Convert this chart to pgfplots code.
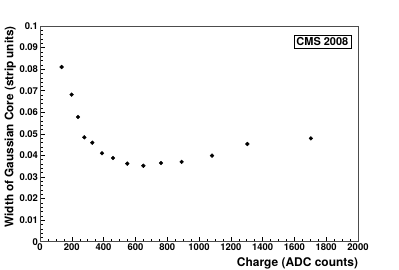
\documentclass[border=0pt]{standalone}
\usepackage{fontspec}
\setmainfont{TeX Gyre Heros}
\usepackage{pgfplots}
\pgfplotsset{compat=1.18}
\begin{document}
\begin{tikzpicture}[x=1bp,y=1bp]
\path[use as bounding box] (0,0) rectangle (399,270);
\begin{axis}[
  at={(40bp,28.3bp)}, anchor=south west,
  scale only axis, width=318bp, height=215.7bp,
  xmin=0, xmax=2000, ymin=0, ymax=0.1,
  xtick={0,200,...,2000}, ytick={0,0.01,...,0.1},
  minor x tick num=3, minor y tick num=4,
  tick align=inside, xtick pos=bottom, ytick pos=left,
  major tick length=5bp, minor tick length=2.6bp,
  tick style={black, line width=0.5pt},
  axis line style={black!70, line width=0.8pt},
  font=\bfseries\fontsize{9.5}{11}\selectfont,
  /pgf/number format/assume math mode=true,
  yticklabel style={/pgf/number format/fixed, /pgf/number format/precision=2, xshift=1.5bp},
  xticklabel style={/pgf/number format/fixed, /pgf/number format/1000 sep={}, yshift=2bp},
  scaled y ticks=false,
  xlabel={Charge (ADC counts)},
  xlabel style={at={(axis description cs:1,0)}, anchor=north east, yshift=-12.5bp, xshift=3.5bp, font=\bfseries\fontsize{12}{14}\selectfont},
  ylabel={Width of Gaussian Core (strip units)},
  ylabel style={at={(axis description cs:-0.075,1)}, anchor=south east, inner sep=0pt, rotate=0, font=\bfseries\fontsize{11.8}{14}\selectfont},
]
\addplot[only marks, mark=*, mark size=1.9bp, black,
  error bars/.cd, y dir=both, y explicit, error bar style={line width=0.6pt}, error mark=none]
  coordinates {
  (136,0.0810) +- (0,0.0009)
  (199,0.0682) +- (0,0.0004)
  (239,0.0578) +- (0,0.0003)
  (279,0.0484) +- (0,0.0002)
  (329,0.0459) +- (0,0.0002)
  (390,0.0410) +- (0,0.0002)
  (459,0.0388) +- (0,0.0002)
  (549,0.0362) +- (0,0.0002)
  (650,0.0352) +- (0,0.0002)
  (761,0.0365) +- (0,0.0002)
  (891,0.0370) +- (0,0.0002)
  (1082,0.0399) +- (0,0.0002)
  (1304,0.0453) +- (0,0.0002)
  (1704,0.0479) +- (0,0.0002)
  };
\node[draw, line width=0.5pt, anchor=north east, inner sep=2.5bp, font=\bfseries\fontsize{11}{12}\selectfont] at (rel axis cs:0.978,0.958) {CMS 2008};
\end{axis}
\end{tikzpicture}
\end{document}
